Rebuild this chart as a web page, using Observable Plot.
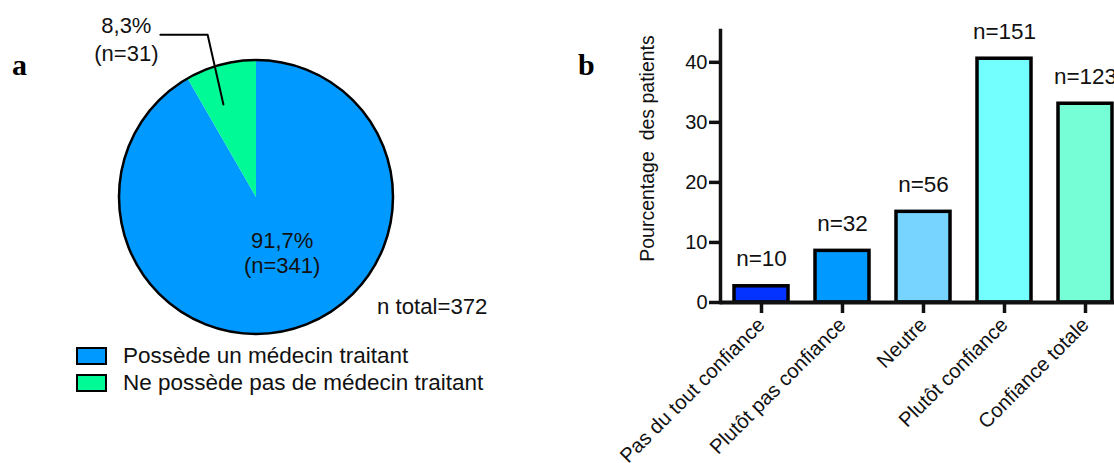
<!DOCTYPE html>
<html><head><meta charset="utf-8">
<script src="https://cdn.jsdelivr.net/npm/d3@7"></script>
<script src="https://cdn.jsdelivr.net/npm/@observablehq/plot@0.6"></script>
<style>
html,body{margin:0;padding:0;background:#fff;}
#root{position:relative;width:1114px;height:463px;overflow:hidden;font-family:"Liberation Sans",Arial,sans-serif;color:#111;}
.panel{position:absolute;top:0;}
.letter{position:absolute;font-family:"Liberation Serif","Times New Roman",serif;font-weight:bold;font-size:30px;line-height:1;color:#000;}
#legend{position:absolute;left:76px;top:342px;font-size:22.5px;}
#legend .row{display:flex;align-items:center;height:27.5px;white-space:nowrap;}
#legend .box{width:31px;height:18px;border:2.5px solid #000;box-sizing:border-box;margin-right:16px;}
#total{position:absolute;left:377px;top:295px;font-size:22.2px;line-height:24px;white-space:nowrap;}
</style></head><body><div id="root"></div>
<script>
// ---- data: panel a (pie) ----
const pieCategories = ["Possède un médecin traitant", "Ne possède pas de médecin traitant"];
const pieCounts = [341, 31];
const piePercents = ["91,7%", "8,3%"];
const pieColors = ["#0099ff", "#00fa96"];

// ---- data: panel b (bars) ----
const barCategories = ["Pas du tout confiance", "Plutôt pas confiance", "Neutre", "Plutôt confiance", "Confiance totale"];
const barPercents = [2.7, 8.6, 15.1, 40.6, 33.1];
const barCounts = [10, 32, 56, 151, 123];
const barColors = ["#0433ff", "#0099ff", "#76d4ff", "#73fffe", "#76ffd6"];
const yTicks = [0, 10, 20, 30, 40];
const yTitle = "Pourcentage\u00a0 des patients";

const FONT = '"Liberation Sans", Arial, sans-serif';
const root = document.getElementById("root");

// ---------- Panel a ----------
const pieData = pieCategories.map((c, i) => ({c, n: pieCounts[i], pct: piePercents[i], color: pieColors[i]}));
const arcs = d3.pie().sort(null).value(d => d.n)(pieData);
const polar = (a, r) => ({x: r * Math.sin(a), y: r * Math.cos(a)});
const mid = a => (a.startAngle + a.endAngle) / 2;
const mainArc = arcs[0], minorArc = arcs[1];
const mainLabel = [{...polar(mid(mainArc), 0.44), text: `${mainArc.data.pct}\n(n=${mainArc.data.n})`}];
const p0 = polar(mid(minorArc) - 0.08, 0.72), p1 = polar(mid(minorArc) - 0.03, 1.24);
const p2 = {x: p1.x - 0.345, y: p1.y};
const leader = [p0, p1, p2];
const minorLabel = [{...p2, text: `${minorArc.data.pct}\n(n=${minorArc.data.n})`}];

function pieRender(index, scales) {
  const cx = scales.x(0), cy = scales.y(0), r = scales.x(1) - scales.x(0);
  const g = d3.create("svg:g").attr("transform", `translate(${cx},${cy})`);
  const arc = d3.arc().innerRadius(0).outerRadius(r);
  g.selectAll("path").data(arcs).join("path").attr("d", arc).attr("fill", d => d.data.color);
  g.append("circle").attr("r", r).attr("fill", "none").attr("stroke", "#000").attr("stroke-width", 2.5);
  return g.node();
}

const pie = Plot.plot({
  width: 560, height: 340,
  marginLeft: 119, marginRight: 167, marginTop: 60, marginBottom: 6,
  style: {fontFamily: FONT, fontSize: "22px", overflow: "visible", background: "transparent", maxWidth: "none", color: "#111"},
  x: {domain: [-1, 1], axis: null},
  y: {domain: [-1, 1], axis: null},
  marks: [
    pieRender,
    Plot.line(leader, {x: "x", y: "y", stroke: "#000", strokeWidth: 2}),
    Plot.text(mainLabel, {x: "x", y: "y", text: "text", dx: 10, dy: -3, fontSize: 22, lineHeight: 1.1}),
    Plot.text(minorLabel, {x: "x", y: "y", text: "text", dx: -34, dy: 3, fontSize: 22, lineHeight: 1.27})
  ]
});
const pieDiv = document.createElement("div");
pieDiv.className = "panel"; pieDiv.style.left = "0px"; pieDiv.style.width = "560px";
pieDiv.appendChild(pie);
root.appendChild(pieDiv);

const legend = document.createElement("div");
legend.id = "legend";
pieData.forEach(d => {
  const row = document.createElement("div"); row.className = "row";
  const box = document.createElement("div"); box.className = "box"; box.style.background = d.color;
  const lab = document.createElement("span"); lab.textContent = d.c;
  row.appendChild(box); row.appendChild(lab); legend.appendChild(row);
});
root.appendChild(legend);

const total = document.createElement("div");
total.id = "total";
total.textContent = `n total=${d3.sum(pieCounts)}`;
root.appendChild(total);

// ---------- Panel b ----------
const barData = barCategories.map((c, i) => ({c, pct: barPercents[i], n: barCounts[i], color: barColors[i]}));
const bars = Plot.plot({
  width: 600, height: 463,
  marginLeft: 160, marginRight: 33, marginTop: 30, marginBottom: 161,
  style: {fontFamily: FONT, fontSize: "20px", overflow: "visible", background: "transparent", maxWidth: "none", color: "#111"},
  x: {domain: barCategories, paddingInner: 0.33, paddingOuter: 0.15, axis: null},
  y: {domain: [0, 45.3], axis: null},
  color: {type: "identity"},
  marks: [
    Plot.barY(barData, {x: "c", y: "pct", fill: "color", stroke: "#000", strokeWidth: 3.5}),
    Plot.text(barData, {x: "c", y: "pct", text: d => `n=${d.n}`, dy: -27, fontSize: 22.5}),
    Plot.axisY({ticks: yTicks, tickSize: 11, tickPadding: 2, strokeWidth: 3.5, fontSize: 20, label: null}),
    Plot.axisX({tickSize: 11, tickPadding: 8, tickRotate: -45, strokeWidth: 3.5, fontSize: 20.3, label: null}),
    Plot.ruleY([0], {strokeWidth: 4}),
    Plot.frame({anchor: "left", strokeWidth: 3.5}),
    Plot.text([yTitle], {frameAnchor: "left", text: d => d, textAnchor: "middle", rotate: -90, dx: -73, dy: -18, fontSize: 19.5})
  ]
});
const barDiv = document.createElement("div");
barDiv.className = "panel"; barDiv.style.left = "560px"; barDiv.style.width = "600px";
barDiv.appendChild(bars);
root.appendChild(barDiv);

// panel letters
[["a", 12], ["b", 578]].forEach(([t, x]) => {
  const el = document.createElement("div");
  el.className = "letter"; el.textContent = t;
  el.style.left = x + "px"; el.style.top = "50px";
  root.appendChild(el);
});
</script>
</body></html>
